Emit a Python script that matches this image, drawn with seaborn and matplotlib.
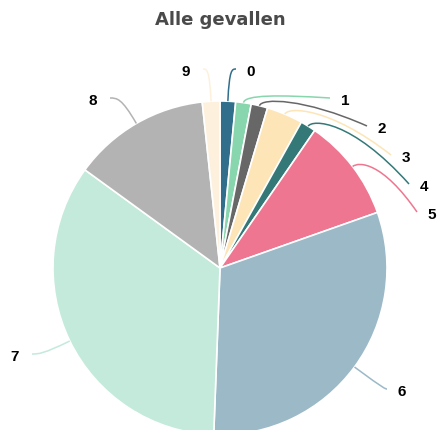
import numpy as np
import matplotlib
matplotlib.use('Agg')
import matplotlib.pyplot as plt
import seaborn as sns
from matplotlib.path import Path
from matplotlib.patches import PathPatch

# data (share of all cases, percent)
labels = ['0', '1', '2', '3', '4', '5', '6', '7', '8', '9']
values = [1.5, 1.5, 1.6, 3.5, 1.5, 10.0, 31.0, 34.4, 13.3, 1.7]
colors = ['#306e8c', '#88d6ad', '#676767', '#fde5b7', '#347978',
          '#ef7690', '#9cb9c7', '#c3eada', '#b3b3b3', '#fdf1dd']

# layout (pixels, origin top-left)
cx, cy, radius = 220, 268, 167
label_pos = [(251, 72), (345, 101), (382, 129), (406, 158), (424, 187),
             (432, 215), (402, 392), (15, 357), (93, 101), (186, 72)]

sns.set_theme(style='white')
plt.rcParams['font.family'] = ['DejaVu Sans']

fig = plt.figure(figsize=(4.37, 4.30), dpi=100)
ax = fig.add_axes([0, 0, 1, 1])

# y axis is inverted, so counterclock=True draws clockwise on screen
wedges, _ = ax.pie(values, colors=sns.color_palette(colors), startangle=-90,
                   counterclock=True, center=(cx, cy), radius=radius,
                   wedgeprops=dict(edgecolor='white', linewidth=1.2))
ax.set_xlim(0, 437)
ax.set_ylim(430, 0)
ax.set_aspect('auto')
ax.axis('off')

# connectors + labels
cum = np.cumsum([0] + values)
total = cum[-1]
for i, lab in enumerate(labels):
    mid = np.radians((cum[i] + cum[i + 1]) / 2 / total * 360)
    d = np.array([np.sin(mid), -np.cos(mid)])
    start = np.array([cx, cy]) + d * radius
    lx, ly = label_pos[i]
    if lx > cx:
        end = np.array([lx - 15, ly - 3])
    else:
        end = np.array([lx + 17, ly - 3])
    k = (end[1] - start[1]) / d[1] if abs(d[1]) > 1e-6 else 8
    k = min(max(k, 8), 40)
    p1 = start + d * k
    p2 = np.array([p1[0] + (end[0] - p1[0]) * 0.4, p1[1]])
    path = Path([start, p1, p2, end],
                [Path.MOVETO, Path.CURVE4, Path.CURVE4, Path.CURVE4])
    ax.add_patch(PathPatch(path, fill=False, edgecolor=colors[i], lw=1.1))
    ax.text(lx, ly, lab, ha='center', va='center', fontsize=11,
            fontweight='bold', color='black', family='Liberation Sans')

fig.text(220 / 437, 1 - 20 / 430, 'Alle gevallen', ha='center', va='center',
         fontsize=13, fontweight='bold', color='#4a4a4a')

plt.savefig('out.png', dpi=100)
